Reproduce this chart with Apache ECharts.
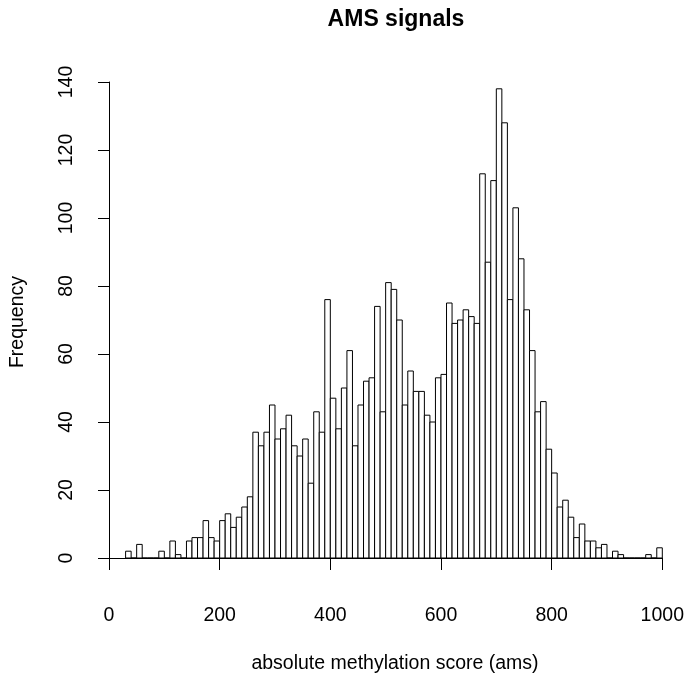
<!DOCTYPE html>
<html>
<head>
<meta charset="utf-8">
<script src="https://cdn.jsdelivr.net/npm/echarts@6/dist/echarts.min.js"></script>
<style>
html,body{margin:0;padding:0;background:#fff;}
#chart{width:687px;height:675px;}
</style>
</head>
<body>
<div id="chart"></div>
<script>
// Histogram breaks (bin starts, width 10) and counts
const binWidth = 10;
const binStarts = [30,40,50,60,70,80,90,100,110,120,130,140,150,160,170,180,190,
  200,210,220,230,240,250,260,270,280,290,300,310,320,330,340,350,360,370,380,390,
  400,410,420,430,440,450,460,470,480,490,500,510,520,530,540,550,560,570,580,590,
  600,610,620,630,640,650,660,670,680,690,700,710,720,730,740,750,760,770,780,790,
  800,810,820,830,840,850,860,870,880,890,900,910,920,930,940,950,960,970,980,990];
const counts = [2,0,4,0,0,0,2,0,5,1,0,5,6,6,11,6,5,
  11,13,9,12,15,18,37,33,37,45,35,38,42,33,30,35,22,43,37,76,
  47,38,50,61,33,45,52,53,74,43,81,79,70,45,55,49,49,42,40,53,
  54,75,69,70,73,71,69,113,87,111,138,128,76,103,88,73,61,43,46,32,
  25,15,17,12,6,10,5,5,3,4,0,2,1,0,0,0,0,1,0,3];
const xTicks = [0,200,400,600,800,1000];
const yTicks = [0,20,40,60,80,100,120,140];
const titleText = 'AMS signals';
const xTitle = 'absolute methylation score (ams)';
const yTitle = 'Frequency';

const FONT = '"Liberation Sans", Arial, Helvetica, sans-serif';
const data = binStarts.map((s, i) => [s, s + binWidth, counts[i]]);

const chart = echarts.init(document.getElementById('chart'), null, {renderer: 'canvas'});
chart.setOption({
  animation: false,
  backgroundColor: '#ffffff',
  grid: {left: 109, right: 23, top: 82, bottom: 117, containLabel: false},
  xAxis: {
    type: 'value', min: xTicks[0], max: xTicks[xTicks.length - 1], interval: 200,
    offset: 19,
    axisLine: {show: true, lineStyle: {color: '#000', width: 1}},
    axisTick: {show: true, length: 12, lineStyle: {color: '#000', width: 1}},
    axisLabel: {show: true, margin: 29, color: '#000', fontSize: 19.5, fontFamily: FONT,
      showMinLabel: true, showMaxLabel: true, formatter: function (v) { return String(v); }},
    splitLine: {show: false}
  },
  yAxis: {
    type: 'value', min: yTicks[0], max: yTicks[yTicks.length - 1], interval: 20,
    offset: 9,
    axisLine: {show: true, lineStyle: {color: '#000', width: 1}},
    axisTick: {show: true, length: 11, lineStyle: {color: '#000', width: 1}},
    axisLabel: {show: true, rotate: 90, margin: 23, color: '#000', fontSize: 19.5, fontFamily: FONT,
      formatter: function (v) { return String(v); }},
    splitLine: {show: false}
  },
  graphic: [
    {type: 'text', x: 396, y: 20, style: {text: titleText, align: 'center', verticalAlign: 'middle',
      font: 'bold 23px ' + FONT, fill: '#000'}},
    {type: 'text', x: 395, y: 664, style: {text: xTitle, align: 'center', verticalAlign: 'middle',
      font: '19.5px ' + FONT, fill: '#000'}},
    {type: 'text', x: 18, y: 322, rotation: Math.PI / 2, style: {text: yTitle, align: 'center', verticalAlign: 'middle',
      font: '19.5px ' + FONT, fill: '#000'}}
  ],
  series: [{
    type: 'custom',
    data: data,
    encode: {x: [0, 1], y: 2},
    clip: false,
    renderItem: function (params, api) {
      const p0 = api.coord([api.value(0), api.value(2)]);
      const p1 = api.coord([api.value(1), 0]);
      return {
        type: 'rect',
        shape: {x: p0[0], y: p0[1], width: p1[0] - p0[0], height: p1[1] - p0[1]},
        style: {fill: '#ffffff', stroke: '#000000', lineWidth: 1}
      };
    }
  }]
});
</script>
</body>
</html>
